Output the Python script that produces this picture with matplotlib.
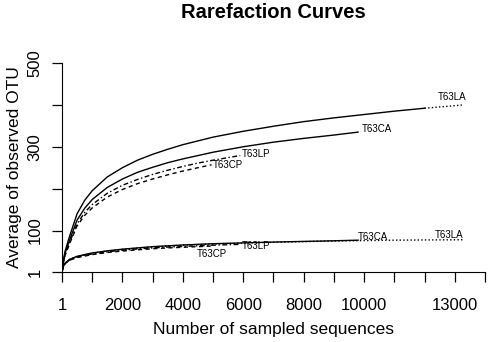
import matplotlib
matplotlib.use('Agg')
import matplotlib.pyplot as plt

plt.rcParams['font.family'] = ['Liberation Sans', 'DejaVu Sans']

# upper group of curves
la_up_x = [1, 50, 100, 250, 500, 750, 1000, 1500, 2000, 2500, 3000, 3500, 4000, 4500, 5000,
           6000, 7000, 8000, 9000, 10000, 11000, 12000, 13300]
la_up_y = [1, 30, 50, 86, 140, 172, 195, 228, 250, 268, 282, 294, 305, 314, 323,
           337, 349, 360, 369, 377, 385, 392, 400]
ca_up_x = [1, 50, 100, 250, 500, 750, 1000, 1500, 2000, 2500, 3000, 3500, 4000, 4500, 5000,
           6000, 7000, 8000, 9000, 9800]
ca_up_y = [1, 27, 45, 77, 125, 153, 174, 203, 223, 239, 251, 262, 271, 279, 287,
           300, 311, 320, 328, 335]
lp_up_x = [1, 50, 100, 250, 500, 750, 1000, 1500, 2000, 2500, 3000, 3500, 4000, 4500, 5000, 5900]
lp_up_y = [1, 25, 42, 71, 116, 143, 162, 189, 208, 222, 234, 244, 253, 261, 268, 279]
cp_up_x = [1, 50, 100, 250, 500, 750, 1000, 1500, 2000, 2500, 3000, 3500, 4000, 4500, 4950]
cp_up_y = [1, 24, 40, 68, 111, 136, 154, 180, 198, 212, 223, 233, 242, 250, 257]

# lower group of curves
la_lo_x = [1, 50, 100, 250, 500, 750, 1000, 1500, 2000, 2500, 3000, 3500, 4000, 4500, 5000,
           6000, 7000, 8000, 9000, 10000, 11000, 12000, 13300]
la_lo_y = [1, 15, 22, 31, 38, 42, 46, 51, 55, 58, 61, 63, 65, 66.5, 68,
           70, 72, 73.5, 75, 76, 77, 77.5, 78]
ca_lo_x = [1, 50, 100, 250, 500, 750, 1000, 1500, 2000, 2500, 3000, 3500, 4000, 4500, 5000,
           6000, 7000, 8000, 9000, 9800]
ca_lo_y = [1, 15, 22, 31, 38.5, 42.5, 46.5, 51.5, 55.5, 58.5, 61.5, 63.5, 65.5, 67, 68.5,
           70.5, 72.5, 74, 75.5, 77]
lp_lo_x = [1, 50, 100, 250, 500, 750, 1000, 1500, 2000, 2500, 3000, 3500, 4000, 4500, 5000, 5900]
lp_lo_y = [1, 14, 21, 29.5, 36.5, 40.5, 44, 49, 53, 56, 58.5, 60.5, 62, 63.5, 65, 67]
cp_lo_x = [1, 50, 100, 250, 500, 750, 1000, 1500, 2000, 2500, 3000, 3500, 4000, 4500, 4950]
cp_lo_y = [1, 14, 20.5, 29, 35.5, 39, 42.5, 47.5, 51, 54, 56.5, 58.5, 60, 61.5, 63]

x_ticks = [1] + [1000 * i for i in range(1, 15)]
x_labels = {1: '1', 2000: '2000', 4000: '4000', 6000: '6000', 8000: '8000',
            10000: '10000', 13000: '13000'}
y_ticks = [1, 100, 200, 300, 400, 500]
y_labels = ['1', '100', '', '300', '', '500']

fig = plt.figure(figsize=(4.9, 3.42), dpi=100)
ax = fig.add_axes([62/490, 1-272/342, 423/490, 209/342])

lw = 1.0
dot = (0, (1, 1.6))
dash = (0, (3, 2.5))
dashdot = (0, (3.5, 1.8, 1, 1.8))

# upper: T63LA drawn solid, last stretch dotted (as in the original render)
ax.plot(la_up_x[:-1], la_up_y[:-1], color='k', lw=lw)
ax.plot(la_up_x[-2:], la_up_y[-2:], color='k', lw=lw, linestyle=dot)
ax.plot(ca_up_x, ca_up_y, color='k', lw=lw)
ax.plot(lp_up_x, lp_up_y, color='k', lw=lw, linestyle=dashdot)
ax.plot(cp_up_x, cp_up_y, color='k', lw=lw, linestyle=dash)

ax.plot(la_lo_x, la_lo_y, color='k', lw=lw, linestyle=dot)
ax.plot(ca_lo_x, ca_lo_y, color='k', lw=lw)
ax.plot(lp_lo_x, lp_lo_y, color='k', lw=lw, linestyle=dashdot)
ax.plot(cp_lo_x, cp_lo_y, color='k', lw=lw, linestyle=dash)

fs_lab = 7
def tag(name, xs, ys, dx, dy, ha, va):
    ax.annotate(name, (xs[-1], ys[-1]), xytext=(dx, dy), textcoords='offset points',
                ha=ha, va=va, fontsize=fs_lab)

tag('T63LA', la_up_x, la_up_y, 2, 2, 'right', 'bottom')
tag('T63CA', ca_up_x, ca_up_y, 3, 2, 'left', 'center')
tag('T63LP', lp_up_x, lp_up_y, 1, 1, 'left', 'center')
tag('T63CP', cp_up_x, cp_up_y, 1, 0, 'left', 'center')
tag('T63LA', la_lo_x, la_lo_y, 0, 0, 'right', 'bottom')
tag('T63CA', ca_lo_x, ca_lo_y, 0, 2, 'left', 'center')
tag('T63LP', lp_lo_x, lp_lo_y, 1, -1, 'left', 'center')
tag('T63CP', cp_lo_x, cp_lo_y, 0, -6, 'center', 'center')

ax.set_xlim(1, 14000)
ax.set_ylim(1, 500)
ax.spines['top'].set_visible(False)
ax.spines['right'].set_visible(False)
ax.set_xticks(x_ticks)
ax.set_xticklabels([x_labels.get(t, '') for t in x_ticks])
ax.set_yticks(y_ticks)
ax.set_yticklabels(y_labels, rotation=90, va='center')
ax.tick_params(length=7, width=0.9, labelsize=12)
ax.tick_params(axis='x', pad=12)
ax.tick_params(axis='y', pad=7)
ax.set_xlabel('Number of sampled sequences', fontsize=12.5, labelpad=6)
ax.set_ylabel('Average of observed OTU', fontsize=12.5, labelpad=4)

fig.text((62+485)/2/490, 1-12/342, 'Rarefaction Curves', ha='center', va='center',
         fontsize=14.5, fontweight='bold')

plt.savefig('out.png', dpi=100)
